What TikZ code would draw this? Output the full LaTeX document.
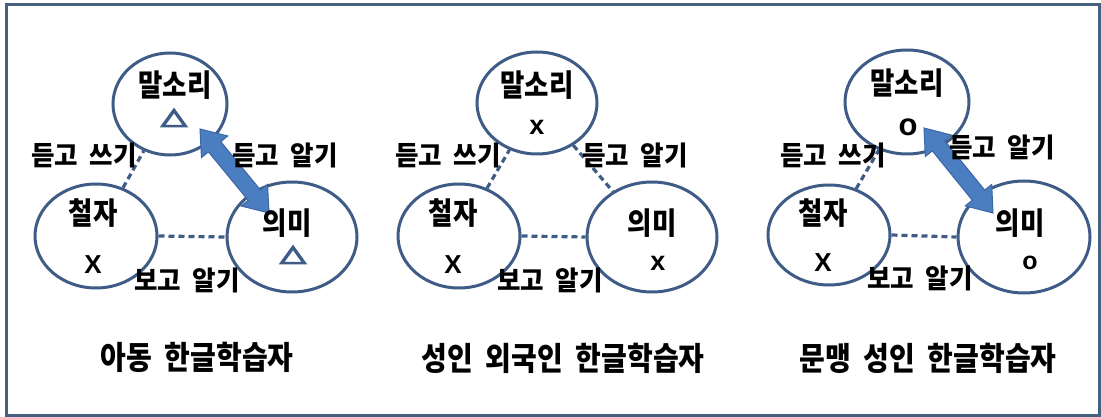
\documentclass[tikz,border=0pt]{standalone}
\usepackage{fontspec}
\setmainfont{Liberation Sans}
\newfontfamily\kr{Noto Sans CJK KR}[WordSpace=2]
\newfontfamily\trifont{DejaVu Sans}[FakeBold=6]
\usetikzlibrary{calc,shapes.geometric}
\definecolor{edgeblue}{HTML}{3E5C86}
\definecolor{frameblue}{HTML}{45617F}
\definecolor{arrfill}{HTML}{4B7DC1}
\definecolor{arrline}{HTML}{3A67A3}
\newcommand{\tall}[2]{\scalebox{1}[#1]{#2}}
\begin{document}
\begin{tikzpicture}[x=1pt,y=-1pt,
  bub/.style={ellipse, draw=edgeblue, line width=3pt, fill=white, inner sep=0pt},
  link/.style={draw=edgeblue, line width=3.2pt, dash pattern=on 6pt off 4pt},
  big/.style={font=\kr\bfseries\fontsize{26.5}{30}\selectfont, inner sep=0pt},
  small/.style={font=\kr\bfseries\fontsize{25.5}{28}\selectfont, inner sep=0pt},
  title/.style={font=\kr\bfseries\fontsize{28}{32}\selectfont, inner sep=0pt},
  capx/.style={font=\bfseries\fontsize{26}{30}\selectfont, inner sep=0pt},
  lowx/.style={font=\bfseries\fontsize{27}{30}\selectfont, inner sep=0pt},
  tri/.style={font=\trifont\fontsize{23}{26}\selectfont, text=edgeblue, inner sep=0pt},
  blockarrow/.style={fill=arrfill, draw=arrline, line width=1pt, line join=miter}
]
\useasboundingbox (0,0) rectangle (1101,417);
\draw[draw=frameblue, line width=3pt] (6,5) rectangle (1099,415);

% ---------- panel 1 ----------
\node[bub, minimum width=114, minimum height=102] (m1) at (170,104) {};
\node[bub, minimum width=122, minimum height=104] (c1) at (96,236) {};
\node[bub, minimum width=130, minimum height=110] (e1) at (292,237) {};
\draw[link] (c1) -- (m1);
\draw[link] (c1.east) -- (e1.west);
\coordinate (a1) at (200,129);
\coordinate (b1) at (269,213);
\coordinate (a1h) at ($(a1)!23pt!(b1)$);
\coordinate (b1h) at ($(b1)!23pt!(a1)$);
\draw[blockarrow] (a1) -- ($(a1h)!17pt!90:(b1)$) -- ($(a1h)!8pt!90:(b1)$)
  -- ($(b1h)!8pt!-90:(a1)$) -- ($(b1h)!17pt!-90:(a1)$) -- (b1)
  -- ($(b1h)!17pt!90:(a1)$) -- ($(b1h)!8pt!90:(a1)$)
  -- ($(a1h)!8pt!-90:(b1)$) -- ($(a1h)!17pt!-90:(b1)$) -- cycle;
\node[big] (m1t) at (175,85) {\tall{1.15}{말소리}};
\node[tri] (m1s) at (174,118) {\scalebox{1.45}[1]{△}};
\node[big] (c1t) at (93,213) {\tall{1.15}{철자}};
\node[capx] (c1s) at (93,265) {X};
\node[big] (e1t) at (287,223) {\tall{1.15}{의미}};
\node[tri] (e1s) at (293,255) {\scalebox{1.45}[1]{△}};
\node[small] (l1a) at (84,155) {\tall{1.05}{듣고 쓰기}};
\node[small] (l1b) at (285,155) {\tall{1.05}{듣고 알기}};
\node[small] (l1c) at (187,280) {\tall{1.05}{보고 알기}};
\node[title] (t1) at (197,357) {\tall{1.15}{아동 한글학습자}};

% ---------- panel 2 ----------
\node[bub, minimum width=120, minimum height=102] (m2) at (537,103) {};
\node[bub, minimum width=122, minimum height=104] (c2) at (459,236) {};
\node[bub, minimum width=130, minimum height=110] (e2) at (652,237) {};
\draw[link] (c2) -- (m2);
\draw[link] (m2) -- (e2);
\draw[link] (c2.east) -- (e2.west);
\node[big] (m2t) at (537,85) {\tall{1.15}{말소리}};
\node[lowx] (m2s) at (537,127) {x};
\node[big] (c2t) at (453,213) {\tall{1.15}{철자}};
\node[capx] (c2s) at (453,265) {X};
\node[big] (e2t) at (652,223) {\tall{1.15}{의미}};
\node[lowx] (e2s) at (658,263) {x};
\node[small] (l2a) at (448,155) {\tall{1.05}{듣고 쓰기}};
\node[small] (l2b) at (635,155) {\tall{1.05}{듣고 알기}};
\node[small] (l2c) at (550,280) {\tall{1.05}{보고 알기}};
\node[title] (t2) at (563,358) {\tall{1.15}{성인 외국인 한글학습자}};

% ---------- panel 3 ----------
\node[bub, minimum width=124, minimum height=104] (m3) at (907,102) {};
\node[bub, minimum width=122, minimum height=100] (c3) at (829,235) {};
\node[bub, minimum width=132, minimum height=112] (e3) at (1024,237) {};
\draw[link] (c3) -- (m3);
\draw[link] (c3.east) -- (e3.west);
\coordinate (a3) at (924,128);
\coordinate (b3) at (993,213);
\coordinate (a3h) at ($(a3)!23pt!(b3)$);
\coordinate (b3h) at ($(b3)!23pt!(a3)$);
\draw[blockarrow] (a3) -- ($(a3h)!17pt!90:(b3)$) -- ($(a3h)!8pt!90:(b3)$)
  -- ($(b3h)!8pt!-90:(a3)$) -- ($(b3h)!17pt!-90:(a3)$) -- (b3)
  -- ($(b3h)!17pt!90:(a3)$) -- ($(b3h)!8pt!90:(a3)$)
  -- ($(a3h)!8pt!-90:(b3)$) -- ($(a3h)!17pt!-90:(b3)$) -- cycle;
\node[big] (m3t) at (907,83) {\tall{1.15}{말소리}};
\node[lowx, font=\bfseries\fontsize{31}{34}\selectfont] (m3s) at (908,127) {o};
\node[big] (c3t) at (823,213) {\tall{1.15}{철자}};
\node[capx] (c3s) at (823,263) {X};
\node[big] (e3t) at (1020,223) {\tall{1.15}{의미}};
\node[lowx, font=\bfseries\fontsize{25}{28}\selectfont] (e3s) at (1030,263) {o};
\node[small] (l3a) at (833,155) {\tall{1.05}{듣고 쓰기}};
\node[small] (l3b) at (1002,147) {\tall{1.05}{듣고 알기}};
\node[small] (l3c) at (920,278) {\tall{1.05}{보고 알기}};
\node[title] (t3) at (928,358) {\tall{1.15}{문맹 성인 한글학습자}};
\end{tikzpicture}
\end{document}
